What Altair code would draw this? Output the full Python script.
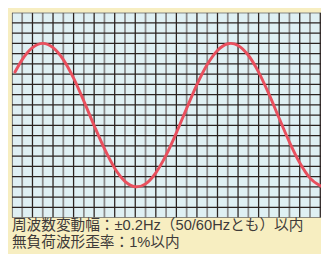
import altair as alt
import pandas as pd

# Waveform (x in grid cells from the left, y in grid cells from the bottom)
wave_x = [0.3, 1, 2, 3, 4, 5, 6, 7, 8, 9, 10, 11, 12, 12.15, 13, 14, 15, 16, 17, 18, 19, 20,
          21, 21.3, 22, 23, 24, 25, 26, 27, 28, 29, 30.07]
wave_y = [14.2, 15.42, 16.59, 17.0, 16.59, 15.42, 13.61, 11.37, 8.98, 6.72, 4.82, 3.54, 3.01, 3.0,
          3.29, 4.37, 6.09, 8.27, 10.66, 12.97, 14.93, 16.31, 16.96, 17.0, 16.8, 15.84, 14.2,
          12.07, 9.69, 7.37, 5.34, 3.85, 3.06]

# Grid
v_grid = list(range(31))
h_grid = list(range(21))

line1 = "周波数変動幅：±0.2Hz（50/60Hzとも）以内"
line2 = "無負荷波形歪率：1%以内"

wave = pd.DataFrame({"x": wave_x, "y": wave_y})
vdf = pd.DataFrame({"x": v_grid, "odd": [v % 2 == 1 for v in v_grid]})
hdf = pd.DataFrame({"y": h_grid})

xs = alt.Scale(domain=[0, 30.07], nice=False, zero=False)
ys = alt.Scale(domain=[0, 20], nice=False, zero=False)

gray_v = alt.Chart(vdf).transform_filter("datum.odd").mark_rule(
    color="#8a8a8a", strokeWidth=1.8, clip=True
).encode(x=alt.X("x:Q", scale=xs, axis=None))

dark_h = alt.Chart(hdf).mark_rule(color="#2b2320", strokeWidth=1.2, clip=True).encode(
    y=alt.Y("y:Q", scale=ys, axis=None)
)

dark_v = alt.Chart(vdf).transform_filter("!datum.odd").mark_rule(
    color="#2b2320", strokeWidth=1.3, clip=True
).encode(x=alt.X("x:Q", scale=xs, axis=None))

curve = alt.Chart(wave).mark_line(
    color="#e9505e", strokeWidth=3, interpolate="monotone", strokeCap="round", clip=True
).encode(
    x=alt.X("x:Q", scale=xs, axis=None),
    y=alt.Y("y:Q", scale=ys, axis=None),
)

chart = alt.layer(gray_v, dark_h, dark_v, curve).properties(
    width=316,
    height=209.5,
    padding={"left": 4, "top": 2, "right": 0, "bottom": 0},
    background="#f7eec1",
    title=alt.TitleParams(
        text=[line1, line2],
        orient="bottom",
        anchor="start",
        font="Liberation Sans, Noto Sans CJK JP",
        fontSize=15,
        fontWeight="normal",
        color="#3e3a39",
        lineHeight=17.5,
        offset=1,
    ),
).configure_view(fill="#dff0f3", strokeWidth=0)

chart.save("out.html", embed_options={"renderer": "svg", "actions": False})
